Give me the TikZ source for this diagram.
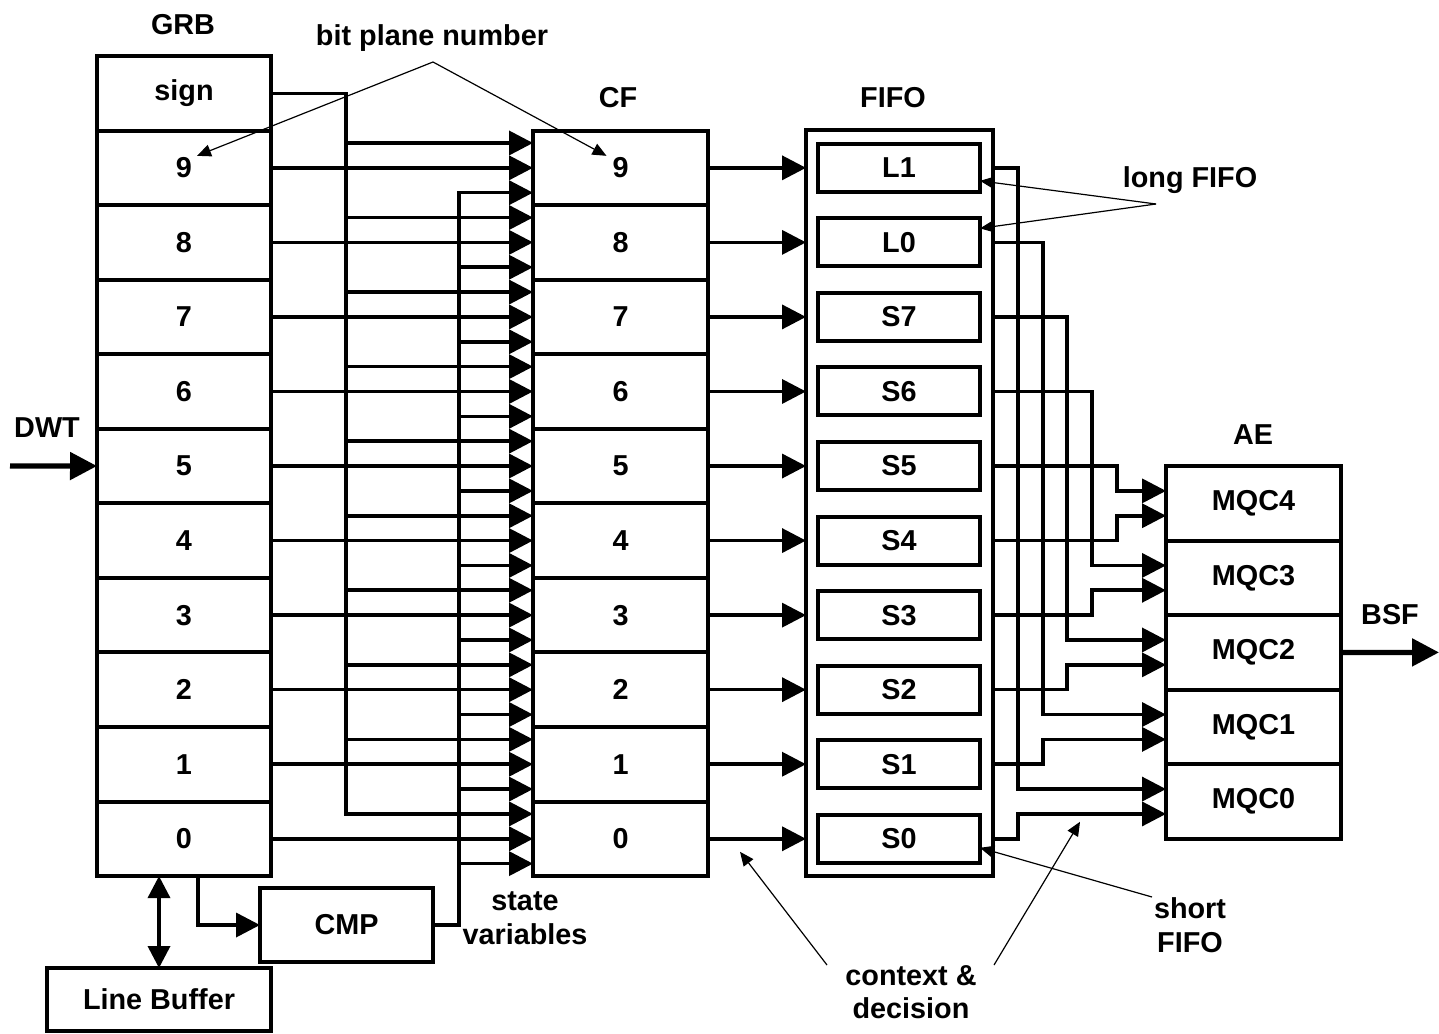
\documentclass[tikz,border=0pt]{standalone}
\usepackage{fontspec}
\setmainfont{Liberation Sans}
\usetikzlibrary{arrows.meta,positioning,calc}
\newcommand{\lblfont}{\fontsize{14.4}{16.8}\selectfont\bfseries}
\tikzset{
  cell/.style={draw,line width=2pt,inner sep=0pt,outer sep=0pt,
               minimum width=87.5pt,minimum height=37.275pt,font=\lblfont},
  fcell/.style={draw,line width=2pt,inner sep=0pt,outer sep=0pt,
               minimum width=81pt,minimum height=24pt,font=\lblfont},
  lbl/.style={font=\lblfont,align=center,inner sep=0pt},
  bus/.style={line width=1.8pt,line cap=rect},
  wire/.style={line width=1.8pt,-{Triangle[length=12pt,width=12pt]}},
  both/.style={line width=1.8pt,{Triangle[length=11pt,width=11pt]}-{Triangle[length=11pt,width=11pt]}},
  fat/.style={line width=2.6pt,-{Triangle[length=13.5pt,width=13.5pt]}},
  note/.style={line width=0.6pt,-{Triangle[length=7pt,width=6pt]}},
}
\begin{document}
\begin{tikzpicture}[x=0.5pt,y=-0.5pt]
  \useasboundingbox (0,0) rectangle (1439,1033);
  % GRB on left
  \node[cell,minimum width=87pt] (gs) at (184,93.3) {sign};
  \foreach \b in {0,...,9}{
     \node[cell,minimum width=87pt] (g\b) at (184,{56+(10.5-\b)*74.55}) {\b};
  }
  \node[lbl] (grb) at (183,25) {GRB};
  \node[cell,minimum width=112pt,minimum height=31.5pt] (lb) at (159,999.5) {Line Buffer};
  \node[cell,minimum width=86.5pt,minimum height=37pt] (cmp) at (346.5,925) {CMP};
  % CF
  \foreach \b in {0,...,9}{
     \node[cell] (c\b) at (620.5,{56+(10.5-\b)*74.55}) {\b};
  }
  \node[lbl] (cf) at (618,98) {CF};
  % FIFO
  \node[draw,line width=2pt,inner sep=0pt,outer sep=0pt,
        minimum width=93.5pt,minimum height=373pt] (fifo) at (899.5,503) {};
  \foreach \b/\t in {9/L1,8/L0,7/S7,6/S6,5/S5,4/S4,3/S3,2/S2,1/S1,0/S0}{
     \node[fcell] (f\b) at (899,{56+(10.5-\b)*74.55}) {\t};
  }
  \node[lbl] (fifolbl) at (893,98) {FIFO};
  % AE
  \foreach \k in {0,...,4}{
     \node[cell] (m\k) at (1253.5,{56+(10-\k)*74.55}) {MQC\k};
  }
  \node[lbl] (ae) at (1253,435) {AE};

  % GRB -> CF, sign bus and CMP bus
  \coordinate (sbus) at (346,0);
  \coordinate (cbus) at (459,0);
  \draw[bus] (gs.east) -| ($(sbus |- c0.west)+(0,-24.85)$);
  \draw[bus] (cmp.east) -| ($(cbus |- c9.west)+(0,24.85)$);
  \foreach \b in {0,...,9}{
     \draw[wire] ($(sbus |- c\b.west)+(0,-24.85)$) -- ($(c\b.west)+(0,-24.85)$);
     \draw[wire] (g\b.east) -- (c\b.west);
     \draw[wire] ($(cbus |- c\b.west)+(0,24.85)$) -- ($(c\b.west)+(0,24.85)$);
     \draw[wire] (c\b.east) -- (fifo.west |- c\b.east);
  }
  % FIFO -> AE
  \foreach \u/\l/\k/\bx in {5/4/4/1117,6/3/3/1092,7/2/2/1067,8/1/1/1043,9/0/0/1018}{
     \coordinate (ab\k) at (\bx,0);
     \draw[wire] (fifo.east |- f\u.east) -| ($(ab\k |- m\k.west)+(0,-12.43)$)
        -- ($(m\k.west)+(0,-12.43)$);
     \draw[wire] (fifo.east |- f\l.east) -| ($(ab\k |- m\k.west)+(0,12.43)$)
        -- ($(m\k.west)+(0,12.43)$);
  }
  % in, out, buffer
  \coordinate (dwtin) at (10,466);
  \coordinate (bsfout) at (1439,652.4);
  \draw[fat] (dwtin) -- (g5.west);
  \draw[fat] (m2.east) -- (bsfout);
  \node[lbl] (dwt) at (47,428) {DWT};
  \node[lbl] (bsf) at (1390,615) {BSF};
  \draw[both] (lb.north |- g0.south) -- (lb.north);
  \draw[wire] ($(g0.south west)+(101,0)$) |- (cmp.west);

  % notes
  \node[lbl] (bpn) at (432,38) {bit plane number};
  \coordinate (bpa) at (433,62);
  \draw[note] (bpa) -- ($(g9.center)+(13,-12)$);
  \draw[note] (bpa) -- ($(c9.center)+(-14,-12)$);
  \node[lbl] (lf) at (1190,180) {long FIFO};
  \coordinate (lfa) at (1156,204);
  \draw[note] (lfa) -- ($(f9.east)+(0,13)$);
  \draw[note] (lfa) -- ($(f8.east)+(0,-14)$);
  \node[lbl] (sf) at (1190,925) {short\\FIFO};
  \coordinate (sfa) at (1152,897);
  \draw[note] (sfa) -- ($(f0.east)+(0,9)$);
  \node[lbl] (sv) at (525,918) {state\\variables};
  \node[lbl] (cd) at (911,992) {context \&\\decision};
  \coordinate (cdl) at (827,965);
  \coordinate (cdr) at (994,965);
  \draw[note] (cdl) -- ($(c0.east)+(32,13)$);
  \draw[note] (cdr) -- ($(f0.east)+(100,-17)$);
\end{tikzpicture}
\end{document}
